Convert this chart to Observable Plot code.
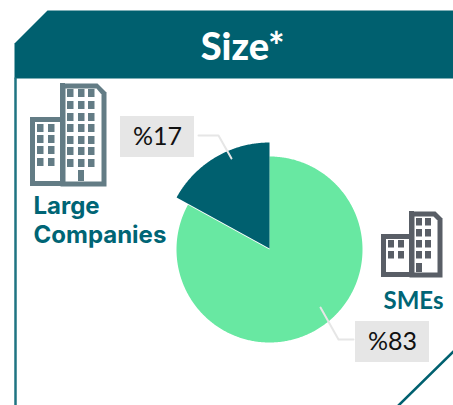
<!DOCTYPE html>
<html><head><meta charset="utf-8">
<style>html,body{margin:0;padding:0;background:#fff}svg{display:block;background:transparent}</style>
<script src="https://cdn.jsdelivr.net/npm/d3@7"></script>
<script src="https://cdn.jsdelivr.net/npm/@observablehq/plot@0.6"></script>
</head><body>
<script>
// DATA
const categories = ["Large Companies", "SMEs"];
const shares = [17, 83];
const shareLabels = ["%17", "%83"];
const title = "Size*";

// STYLE / LAYOUT
const teal = "#00606F", tealText = "#006575", green = "#68E8A2", boxGrey = "#E6E6E6";
const sliceColors = [teal, green];
const centre = [269, 249];
const sliceRadius = [106, 93];
const sliceApex = [[269, 248], centre];

// Pie polygons come from the values through d3.pie
const startA = -2 * Math.PI * shares[0] / 100;
const arcs = d3.pie().sort(null).startAngle(startA).endAngle(startA + 2 * Math.PI)(shares);
const sliceRows = arcs.flatMap((a, i) => {
  const [cx, cy] = sliceApex[i], r = sliceRadius[i];
  const n = Math.ceil((a.endAngle - a.startAngle) / 0.01);
  const pts = [{name: categories[i], x: cx, y: cy}];
  for (let k = 0; k <= n; k++) {
    const t = a.startAngle + (a.endAngle - a.startAngle) * k / n;
    pts.push({name: categories[i], x: cx + r * Math.sin(t), y: cy - r * Math.cos(t)});
  }
  pts.push({name: categories[i], x: cx, y: cy});
  return pts;
});

const poly = (arr) => arr.map(([x, y]) => ({x, y}));
const headerShape = poly([[14,43],[47,10],[453,10],[453,78],[14,78]]);
const frameLeft = poly([[15,78],[15,405]]);
const frameCorner = poly([[453,351],[398,405]]);

function windows(xs, ys, w, h) {
  return xs.flatMap(x => ys.map(y => ({x1: x, x2: x + w, y1: y, y2: y + h})));
}
function buildingMarks(col, tower, annex, towerWin, annexWin, door) {
  return [
    Plot.line(poly(tower.outer), {x:"x", y:"y", fill:col, stroke:"none"}),
    Plot.rect([annex.outer], {x1:"x1", x2:"x2", y1:"y1", y2:"y2", fill:col}),
    Plot.line(poly(tower.inner), {x:"x", y:"y", fill:"#fff", stroke:"none"}),
    Plot.rect([annex.inner], {x1:"x1", x2:"x2", y1:"y1", y2:"y2", fill:"#fff"}),
    Plot.rect([tower.post, door].concat(towerWin, annexWin), {x1:"x1", x2:"x2", y1:"y1", y2:"y2", fill:col})
  ];
}
const bigIcon = buildingMarks("#637C85",
  {outer:[[60,83],[97,83],[106,92],[106,186],[60,186]],
   inner:[[65,88],[96,88],[101,94],[101,181],[65,181]],
   post:{x1:60,x2:65,y1:83,y2:186}},
  {outer:{x1:30,x2:60,y1:117,y2:186}, inner:{x1:35,x2:60,y1:122,y2:181}},
  windows([67,78,88],[89,101,113,124,136,147,159],6.5,8),
  windows([37,48],[124,135,146,158],6.5,8),
  {x1:78,x2:84,y1:170,y2:181});
const smallIcon = buildingMarks("#595E66",
  {outer:[[409,211],[435,211],[442,218],[442,277],[409,277]],
   inner:[[414,216],[433,216],[437,220],[437,272],[414,272]],
   post:{x1:409,x2:414,y1:211,y2:277}},
  {outer:{x1:381,x2:409,y1:234,y2:277}, inner:{x1:386,x2:409,y1:239,y2:272}},
  windows([416,425],[218,229,240,251],6,7.5),
  windows([388,398],[240,251],6,7.5),
  {x1:416,x2:422,y1:263,y2:272});

const labelBoxes = [{x1:120,x2:194,y1:116,y2:157,t:shareLabels[0]},{x1:355,x2:429,y1:321,y2:362,t:shareLabels[1]}];
const leaders = [
  {id:0,x:198,y:135},{id:0,x:218,y:135},{id:0,x:231,y:158},
  {id:1,x:353,y:339},{id:1,x:338,y:339},{id:1,x:320,y:307}
];
const nameLabels = [
  {t:"Large", x:33, y:213},
  {t:"Companies", x:33, y:242}
];
const smeLabel = [{t:categories[1], x:413, y:308}];

const chart = Plot.plot({
  width: 453, height: 405,
  margin: 0,
  x: {domain:[0,453], range:[0,453], axis:null},
  y: {domain:[0,405], range:[0,405], axis:null},
  color: {domain:categories, range:sliceColors},
  marks: [
    Plot.line(headerShape, {x:"x", y:"y", fill:teal, stroke:"none"}),
    Plot.line(frameLeft, {x:"x", y:"y", stroke:"#1F7482", strokeWidth:2.5}),
    Plot.line(frameCorner, {x:"x", y:"y", stroke:teal, strokeWidth:2.5}),
    Plot.text([title], {x:()=>242, y:()=>59, text:d=>d, fill:"#fff", fontFamily:"Lato", fontWeight:900, fontSize:38, textAnchor:"middle", lineAnchor:"bottom"}),
    ...bigIcon,
    ...smallIcon,
    Plot.line(sliceRows.filter(d=>d.name===categories[1]), {x:"x", y:"y", z:"name", fill:"name", stroke:"none"}),
    Plot.line(sliceRows.filter(d=>d.name===categories[0]), {x:"x", y:"y", z:"name", fill:"name", stroke:"none"}),
    Plot.line(leaders, {x:"x", y:"y", z:"id", stroke:boxGrey, strokeWidth:2}),
    Plot.rect(labelBoxes, {x1:"x1", x2:"x2", y1:"y1", y2:"y2", fill:boxGrey}),
    Plot.text(labelBoxes, {x:d=>(d.x1+d.x2)/2, y:d=>(d.y1+d.y2)/2, text:"t", fill:"#111", fontFamily:"Lato", fontSize:25, textAnchor:"middle"}),
    Plot.text(nameLabels, {x:"x", y:"y", text:"t", fill:tealText, fontFamily:"Inter", fontWeight:700, fontSize:24, textAnchor:"start", lineAnchor:"bottom"}),
    Plot.text(smeLabel, {x:"x", y:"y", text:"t", fill:tealText, fontFamily:"Lato", fontWeight:700, fontSize:24, textAnchor:"middle", lineAnchor:"bottom"})
  ]
});
document.body.appendChild(chart);
</script>
</body></html>
